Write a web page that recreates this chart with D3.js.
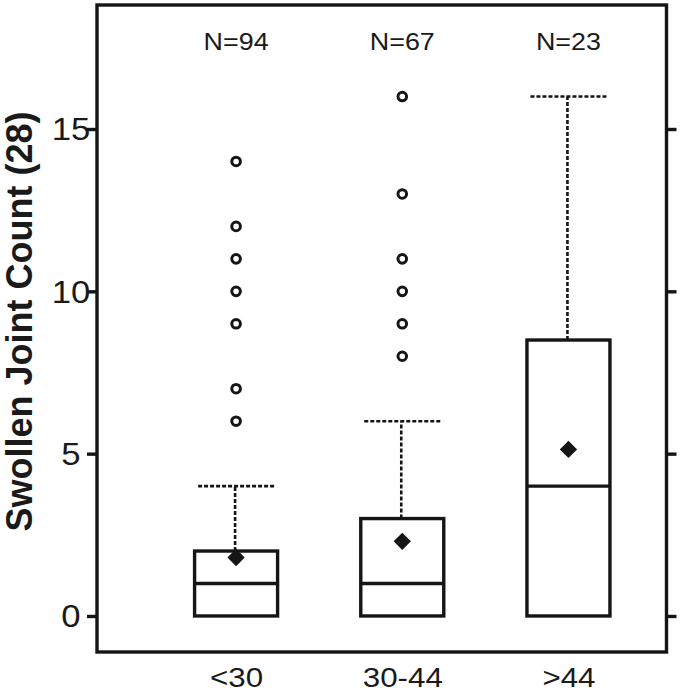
<!DOCTYPE html>
<html>
<head>
<meta charset="utf-8">
<script src="https://cdn.jsdelivr.net/npm/d3@7"></script>
<style>
  html, body { margin: 0; padding: 0; background: #fff; }
  svg { display: block; }
  text { font-family: "Liberation Sans", Arial, Helvetica, sans-serif; fill: #1a1a1a; }
</style>
</head>
<body>
<svg id="chart" width="680" height="692"></svg>
<script>
// ---- data ----
const categories = ["<30", "30-44", ">44"];
const nCounts = [94, 67, 23];
const q1 = [0, 0, 0];
const medians = [1, 1, 4];
const q3 = [2, 3, 8.5];
const whiskerHigh = [4, 6, 16];
const means = [1.8, 2.3, 5.13];
const outliers = [
  [6, 7, 9, 10, 11, 12, 14],
  [8, 9, 10, 11, 13, 16],
  []
];
const yTicks = [0, 5, 10, 15];
const yTitle = "Swollen Joint Count (28)";

// ---- layout ----
const plotLeft = 97, plotRight = 666.5, plotTop = 5, plotBottom = 652;
const ink = "#151515";
const svg = d3.select("#chart");

const x = d3.scaleLinear().domain([0.163, 3.59]).range([plotLeft, plotRight]);
const y = d3.scaleLinear().domain([-1.11, 18.82]).range([plotBottom, plotTop]);
const boxHalf = 41.5, capHalf = 38;
const heavy = 3.4;

const stretch = 1.12;

// y axis left
const yAxisL = svg.append("g").attr("transform", `translate(${plotLeft},0)`)
  .call(d3.axisLeft(y).tickValues(yTicks).tickSize(10).tickFormat(d3.format("d")));
yAxisL.select(".domain").remove();
yAxisL.selectAll(".tick line").attr("stroke", ink).attr("stroke-width", heavy);
yAxisL.selectAll(".tick text")
  .attr("x", 0).attr("dy", "0.35em")
  .attr("text-anchor", "middle")
  .attr("transform", `translate(-26,0) scale(${stretch},1)`)
  .style("font-size", "31px").attr("fill", ink);

// y axis right (ticks only)
const yAxisR = svg.append("g").attr("transform", `translate(${plotRight},0)`)
  .call(d3.axisRight(y).tickValues(yTicks).tickSize(10).tickFormat(""));
yAxisR.select(".domain").remove();
yAxisR.selectAll(".tick line").attr("stroke", ink).attr("stroke-width", heavy);

// x axis labels (no ticks)
const xAxis = svg.append("g").attr("transform", `translate(0,${plotBottom})`)
  .call(d3.axisBottom(x).tickValues([1, 2, 3]).tickSize(0)
    .tickFormat((d, i) => categories[i]));
xAxis.select(".domain").remove();
xAxis.selectAll(".tick text")
  .attr("y", 0).attr("dy", null)
  .attr("text-anchor", "middle")
  .attr("transform", `translate(0,34.5) scale(1.16,1)`)
  .style("font-size", "27px").attr("fill", ink);

// frame
svg.append("rect")
  .attr("x", plotLeft).attr("y", plotTop)
  .attr("width", plotRight - plotLeft).attr("height", plotBottom - plotTop)
  .attr("fill", "none").attr("stroke", ink).attr("stroke-width", heavy);

// y title
svg.append("text")
  .attr("transform", `translate(32,321.5) rotate(-90)`)
  .attr("text-anchor", "middle")
  .style("font-size", "36px").style("font-weight", "bold")
  .text(yTitle);

// boxes
categories.forEach((c, i) => {
  const cx = x(i + 1);
  const g = svg.append("g");
  // whisker vertical
  g.append("line")
    .attr("x1", cx - 1).attr("x2", cx - 1)
    .attr("y1", y(q3[i])).attr("y2", y(whiskerHigh[i]))
    .attr("stroke", ink).attr("stroke-width", 2.6)
    .attr("stroke-dasharray", "4,2");
  // cap
  g.append("line")
    .attr("x1", cx - capHalf).attr("x2", cx + capHalf)
    .attr("y1", y(whiskerHigh[i])).attr("y2", y(whiskerHigh[i]))
    .attr("stroke", ink).attr("stroke-width", 2.6)
    .attr("stroke-dasharray", "4,2");
  // box
  g.append("rect")
    .attr("x", cx - boxHalf).attr("y", y(q3[i]))
    .attr("width", boxHalf * 2).attr("height", y(q1[i]) - y(q3[i]))
    .attr("fill", "white").attr("stroke", ink).attr("stroke-width", heavy);
  // median
  g.append("line")
    .attr("x1", cx - boxHalf).attr("x2", cx + boxHalf)
    .attr("y1", y(medians[i])).attr("y2", y(medians[i]))
    .attr("stroke", ink).attr("stroke-width", heavy);
  // mean diamond
  g.append("path")
    .attr("d", d3.symbol(d3.symbolSquare, 150)())
    .attr("transform", `translate(${cx},${y(means[i])}) rotate(45)`)
    .attr("fill", ink);
  // outliers
  g.selectAll("circle").data(outliers[i]).join("circle")
    .attr("cx", cx).attr("cy", d => y(d)).attr("r", 4.3)
    .attr("fill", "white").attr("stroke", ink).attr("stroke-width", 3);
  // N label
  svg.append("text")
    .attr("text-anchor", "middle")
    .attr("transform", `translate(${cx},50) scale(${stretch},1)`)
    .style("font-size", "24px")
    .text("N=" + nCounts[i]);
});
</script>
</body>
</html>
